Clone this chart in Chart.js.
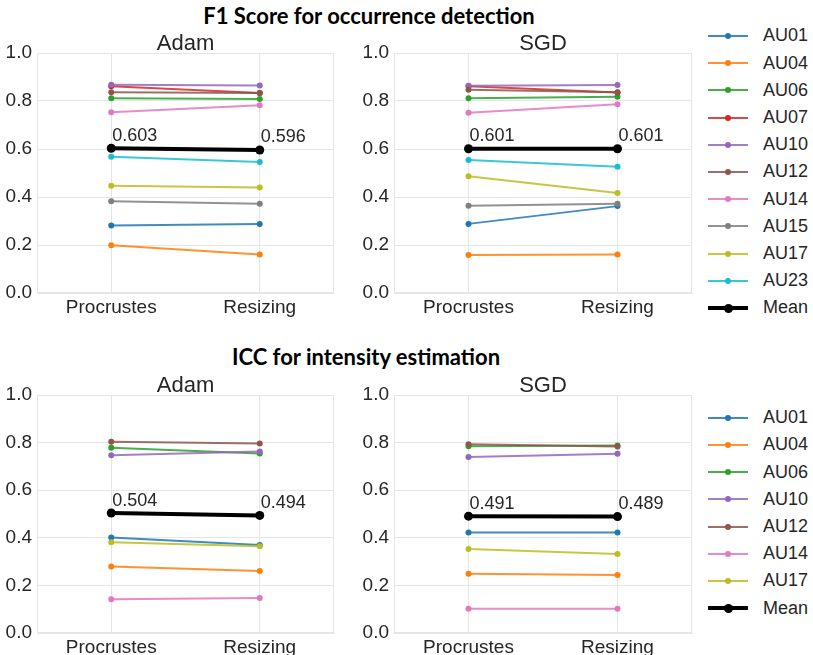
<!DOCTYPE html>
<html>
<head>
<meta charset="utf-8">
<script src="https://cdn.jsdelivr.net/npm/chart.js@4.4.1/dist/chart.umd.min.js"></script>
<style>
  html, body { margin: 0; padding: 0; background: #ffffff; }
  body { width: 813px; height: 655px; position: relative; overflow: hidden; font-family: "Liberation Sans", Arial, sans-serif; }
  canvas { position: absolute; }
  .suptitle { position: absolute; font-family: Lato, "Open Sans", sans-serif; font-weight: 700; font-size: 22px; color: #000; white-space: nowrap; transform: translate(-50%, -50%); }
  .lg-line { position: absolute; left: 708px; width: 40px; }
  .lg-dot { position: absolute; border-radius: 50%; }
  .lg-text { position: absolute; left: 763px; font-size: 18px; color: #262626; line-height: 27.2px; white-space: nowrap; }
</style>
</head>
<body>
<div class="suptitle" id="sup1" style="left:369px; top:15px;">F1 Score for occurrence detection</div>
<div class="suptitle" id="sup2" style="left:366px; top:356px;">ICC for intensity estimation</div>
<canvas id="c1" width="345" height="303" style="left:0px; top:22px;"></canvas>
<canvas id="c2" width="346" height="303" style="left:357px; top:22px;"></canvas>
<canvas id="c3" width="345" height="291" style="left:0px; top:364px;"></canvas>
<canvas id="c4" width="346" height="291" style="left:357px; top:364px;"></canvas>
<div id="legends"></div>
<script>
// ---------------- DATA ----------------
const categories = ['Procrustes', 'Resizing'];
const yTicks = [0.0, 0.2, 0.4, 0.6, 0.8, 1.0];

// F1 score (occurrence detection)
const f1Units = ['AU01', 'AU04', 'AU06', 'AU07', 'AU10', 'AU12', 'AU14', 'AU15', 'AU17', 'AU23'];
const f1AdamProcrustes = [0.281, 0.199, 0.811, 0.861, 0.868, 0.836, 0.753, 0.382, 0.447, 0.568];
const f1AdamResizing   = [0.288, 0.160, 0.808, 0.833, 0.865, 0.833, 0.782, 0.372, 0.440, 0.546];
const f1AdamMean       = [0.603, 0.596];
const f1SgdProcrustes  = [0.288, 0.158, 0.811, 0.861, 0.864, 0.847, 0.751, 0.364, 0.486, 0.554];
const f1SgdResizing    = [0.362, 0.160, 0.818, 0.835, 0.867, 0.836, 0.786, 0.372, 0.417, 0.526];
const f1SgdMean        = [0.601, 0.601];

// ICC (intensity estimation)
const iccUnits = ['AU01', 'AU04', 'AU06', 'AU10', 'AU12', 'AU14', 'AU17'];
const iccAdamProcrustes = [0.401, 0.279, 0.778, 0.747, 0.804, 0.142, 0.381];
const iccAdamResizing   = [0.370, 0.261, 0.754, 0.763, 0.796, 0.147, 0.365];
const iccAdamMean       = [0.504, 0.494];
const iccSgdProcrustes  = [0.422, 0.249, 0.785, 0.739, 0.793, 0.102, 0.353];
const iccSgdResizing    = [0.422, 0.244, 0.788, 0.753, 0.784, 0.102, 0.332];
const iccSgdMean        = [0.491, 0.489];

// ---------------- STYLE ----------------
const unitColors = {
  AU01: '#1f77b4', AU04: '#ff7f0e', AU06: '#2ca02c', AU07: '#d62728', AU10: '#9467bd',
  AU12: '#8c564b', AU14: '#e377c2', AU15: '#7f7f7f', AU17: '#bcbd22', AU23: '#17becf'
};
const textColor = '#262626';
const gridColor = '#e6e6e6';
const fontFamily = '"Liberation Sans", Arial, sans-serif';

function withAlpha(hex, a) {
  const r = parseInt(hex.slice(1, 3), 16), g = parseInt(hex.slice(3, 5), 16), b = parseInt(hex.slice(5, 7), 16);
  return `rgba(${r},${g},${b},${a})`;
}

const framePlugin = {
  id: 'frame',
  beforeDatasetsDraw(chart) {
    const { ctx, chartArea: a } = chart;
    ctx.save();
    ctx.strokeStyle = gridColor;
    ctx.lineWidth = 1;
    ctx.strokeRect(a.left + 0.5, a.top + 0.5, a.right - a.left - 1, a.bottom - a.top - 1);
    ctx.restore();
  }
};

// subplot title centred over the plot area (like matplotlib's ax.set_title)
const axTitlePlugin = {
  id: 'axTitle',
  afterDraw(chart, args, opts) {
    const { ctx, chartArea: a } = chart;
    ctx.save();
    ctx.font = `22px ${fontFamily}`;
    ctx.fillStyle = textColor;
    ctx.textAlign = 'center';
    ctx.textBaseline = 'alphabetic';
    ctx.fillText(opts.text, (a.left + a.right) / 2, a.top - 3);
    ctx.restore();
  }
};

const meanLabelPlugin = {
  id: 'meanLabels',
  afterDatasetsDraw(chart) {
    const ds = chart.data.datasets.find(d => d.isMean);
    if (!ds) return;
    const { ctx } = chart;
    const xs = chart.scales.x, ys = chart.scales.y;
    ctx.save();
    ctx.font = `18px ${fontFamily}`;
    ctx.fillStyle = textColor;
    ctx.textAlign = 'left';
    ctx.textBaseline = 'alphabetic';
    ds.data.forEach((v, i) => {
      const x = xs.getPixelForValue(i);
      const y = ys.getPixelForValue(v);
      ctx.fillText(v.toFixed(3), x + 1, y - 7.5);
    });
    ctx.restore();
  }
};

function makePanel(id, title, units, pArr, rArr, meanArr, xAxisHeight) {
  const datasets = units.map((u, i) => ({
    label: u,
    data: [pArr[i], rArr[i]],
    borderColor: withAlpha(unitColors[u], 0.85),
    backgroundColor: unitColors[u],
    pointBackgroundColor: unitColors[u],
    pointBorderWidth: 0,
    pointRadius: 3,
    borderWidth: 2,
    tension: 0,
    order: -i
  }));
  datasets.push({
    label: 'Mean',
    isMean: true,
    data: meanArr.slice(),
    borderColor: '#000000',
    backgroundColor: '#000000',
    pointBackgroundColor: '#000000',
    pointBorderWidth: 0,
    pointRadius: 4.5,
    borderWidth: 4,
    tension: 0,
    order: -100
  });
  new Chart(document.getElementById(id), {
    type: 'line',
    data: { labels: categories, datasets },
    options: {
      responsive: false,
      animation: false,
      events: [],
      layout: { padding: { left: 0, right: 11, top: 31, bottom: 0 } },
      plugins: {
        legend: { display: false },
        tooltip: { enabled: false },
        title: { display: false },
        axTitle: { text: title }
      },
      scales: {
        x: {
          type: 'category',
          offset: true,
          grid: { color: gridColor, drawTicks: false, lineWidth: 1 },
          border: { color: gridColor },
          ticks: { color: textColor, font: { family: fontFamily, size: 19 }, padding: 3, maxRotation: 0, autoSkip: false },
          afterFit: s => { s.height = xAxisHeight; }
        },
        y: {
          min: 0,
          max: 1,
          afterBuildTicks: s => { s.ticks = yTicks.map(v => ({ value: v })); },
          grid: { color: gridColor, drawTicks: false, lineWidth: 1 },
          border: { color: gridColor },
          ticks: { color: textColor, font: { family: fontFamily, size: 19 }, padding: 5, callback: v => Number(v).toFixed(1) },
          afterFit: s => { s.width = 37; }
        }
      }
    },
    plugins: [framePlugin, axTitlePlugin, meanLabelPlugin]
  });
}

makePanel('c1', 'Adam', f1Units, f1AdamProcrustes, f1AdamResizing, f1AdamMean, 32);
makePanel('c2', 'SGD', f1Units, f1SgdProcrustes, f1SgdResizing, f1SgdMean, 32);
makePanel('c3', 'Adam', iccUnits, iccAdamProcrustes, iccAdamResizing, iccAdamMean, 22);
makePanel('c4', 'SGD', iccUnits, iccSgdProcrustes, iccSgdResizing, iccSgdMean, 22);

// ---------------- LEGENDS (HTML, real text) ----------------
function makeLegend(units, firstCenterY) {
  const host = document.getElementById('legends');
  const entries = units.map(u => ({ label: u, color: unitColors[u], lw: 2, r: 3 }));
  entries.push({ label: 'Mean', color: '#000000', lw: 4, r: 4.5 });
  entries.forEach((e, i) => {
    const cy = firstCenterY + 27.2 * i;
    const line = document.createElement('div');
    line.className = 'lg-line';
    line.style.top = (cy - e.lw / 2) + 'px';
    line.style.height = e.lw + 'px';
    line.style.background = e.color === '#000000' ? e.color : withAlpha(e.color, 0.85);
    host.appendChild(line);
    const dot = document.createElement('div');
    dot.className = 'lg-dot';
    dot.style.left = (728 - e.r) + 'px';
    dot.style.top = (cy - e.r) + 'px';
    dot.style.width = (2 * e.r) + 'px';
    dot.style.height = (2 * e.r) + 'px';
    dot.style.background = e.color;
    host.appendChild(dot);
    const t = document.createElement('div');
    t.className = 'lg-text';
    t.style.top = (cy - 13.6) + 'px';
    t.textContent = e.label;
    host.appendChild(t);
  });
}
makeLegend(f1Units, 36);
makeLegend(iccUnits, 417.7);
</script>
</body>
</html>
